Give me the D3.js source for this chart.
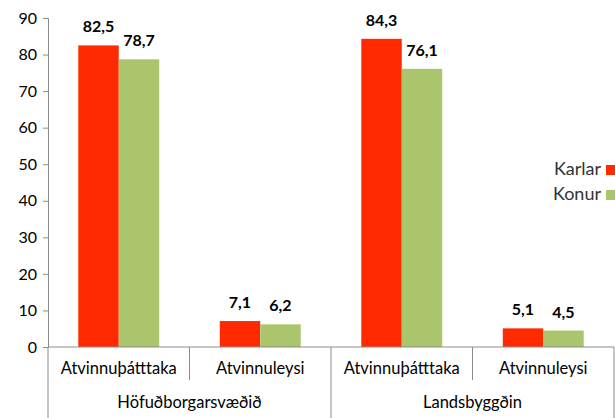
<!DOCTYPE html>
<html>
<head>
<meta charset="utf-8">
<script src="https://cdn.jsdelivr.net/npm/d3@7"></script>
<style>
  body { margin: 0; background: #fff; }
  text { font-family: Lato, "Open Sans", sans-serif; fill: #000; }
</style>
</head>
<body>
<div id="chart"></div>
<script>
// data
var groups = ["Höfuðborgarsvæðið", "Landsbyggðin"];
var categories = ["Atvinnuþátttaka", "Atvinnuleysi"];
var seriesNames = ["Karlar", "Konur"];
var karlar = [82.5, 7.1, 84.3, 5.1];
var konur = [78.7, 6.2, 76.1, 4.5];
var yTicks = [0, 10, 20, 30, 40, 50, 60, 70, 80, 90];
var colors = ["#ff2a00", "#abc56d"];

var W = 615, H = 418;
var margin = {top: 18, right: 1, bottom: 71, left: 48},
    width = W - margin.left - margin.right,
    height = H - margin.top - margin.bottom;

var svg = d3.select("#chart")
  .append("svg")
    .attr("width", W)
    .attr("height", H)
  .append("g")
    .attr("transform", "translate(" + margin.left + "," + margin.top + ")");

// one slot per group+category
var slots = [];
groups.forEach(function(g) {
  categories.forEach(function(c) { slots.push(g + "|" + c); });
});

var X = d3.scaleBand().domain(slots).range([0, width]);
var inner = d3.scaleBand().domain(seriesNames).range([X.bandwidth() * 0.214, X.bandwidth() * 0.786]);
var Y = d3.scaleLinear().domain([0, 90]).range([height, 0]);

// y axis
var yAxis = svg.append("g")
  .call(d3.axisLeft(Y).tickValues(yTicks).tickSize(5).tickPadding(6));
yAxis.select(".domain").attr("stroke", "#8c8c8c");
yAxis.selectAll(".tick line").attr("stroke", "#8c8c8c");
yAxis.selectAll(".tick text").style("font-size", "16px").attr("fill", "#000");

// bars
var rows = slots.map(function(s, i) { return {slot: s, values: [karlar[i], konur[i]]}; });
rows.forEach(function(r) {
  r.values.forEach(function(v, j) {
    var x = X(r.slot) + inner(seriesNames[j]);
    svg.append("rect")
      .attr("x", x)
      .attr("y", Y(v))
      .attr("width", inner.bandwidth())
      .attr("height", height - Y(v))
      .style("fill", colors[j]);
    svg.append("text")
      .attr("x", x + inner.bandwidth() / 2)
      .attr("y", Y(v) - 13)
      .attr("text-anchor", "middle")
      .style("font-size", "16px")
      .style("font-weight", "bold")
      .text(String(v.toFixed(1)).replace(".", ","));
  });
});

// x axis baseline and dividers
svg.append("line")
  .attr("x1", 0).attr("x2", width)
  .attr("y1", height).attr("y2", height)
  .attr("stroke", "#8c8c8c");

slots.forEach(function(s, i) {
  var isGroupStart = i % categories.length === 0;
  svg.append("line")
    .attr("x1", X(s)).attr("x2", X(s))
    .attr("y1", height).attr("y2", height + (isGroupStart ? 71 : 33))
    .attr("stroke", "#8c8c8c");
  svg.append("text")
    .attr("x", X(s) + X.bandwidth() / 2)
    .attr("y", height + 27)
    .attr("text-anchor", "middle")
    .style("font-size", "16.5px")
    .text(s.split("|")[1]);
});
svg.append("line")
  .attr("x1", width).attr("x2", width)
  .attr("y1", height).attr("y2", height + 71)
  .attr("stroke", "#8c8c8c");

groups.forEach(function(g) {
  var first = X(g + "|" + categories[0]);
  var last = X(g + "|" + categories[categories.length - 1]) + X.bandwidth();
  svg.append("text")
    .attr("x", (first + last) / 2)
    .attr("y", height + 61)
    .attr("text-anchor", "middle")
    .style("font-size", "16.5px")
    .text(g);
});

// legend
var legend = svg.append("g").attr("transform", "translate(" + (width - 10) + ",0)");
seriesNames.forEach(function(n, i) {
  var ly = 147 + i * 25;
  legend.append("rect")
    .attr("x", 2).attr("y", ly).attr("width", 10).attr("height", 10)
    .style("fill", colors[i]);
  legend.append("text")
    .attr("x", -3).attr("y", ly + 10)
    .attr("text-anchor", "end")
    .style("font-size", "18px")
    .style("fill", "#333")
    .text(n);
});
</script>
</body>
</html>
